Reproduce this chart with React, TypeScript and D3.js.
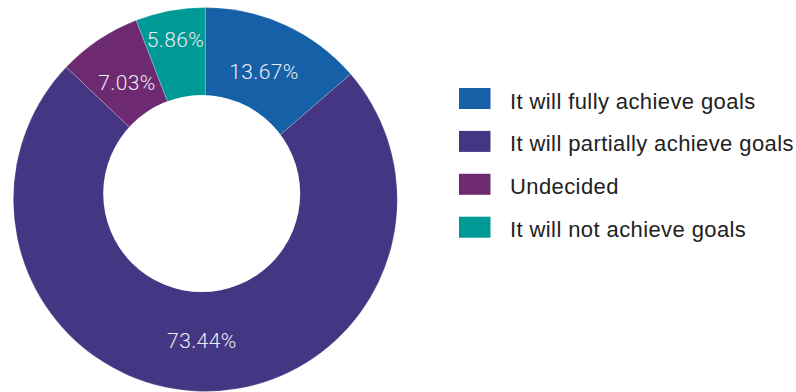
import React from "react";
import * as d3 from "d3";

const categories = [
  "It will fully achieve goals",
  "It will partially achieve goals",
  "Undecided",
  "It will not achieve goals",
];
const values = [13.67, 73.44, 7.03, 5.86];
const labels = ["13.67%", "73.44%", "7.03%", "5.86%"];
const colors = ["#1560A7", "#443682", "#6D2A70", "#009A96"];

const W = 796;
const H = 392;
const cx = 205.3;
const cy = 199.5;
const outerR = 192;
const holeCx = 201.7;
const holeCy = 193.6;
const holeR = 98.5;
const labelFont = 21;

function textWidth(s: string, size: number) {
  let w = 0;
  for (const ch of s) {
    if (ch === ".") w += 0.278;
    else if (ch === "%") w += 0.889;
    else w += 0.556;
  }
  return w * size;
}

export default function App() {
  const pie = d3
    .pie<number>()
    .sort(null)
    .value((d) => d);
  const arcs = pie(values);
  const arc = d3.arc<d3.PieArcDatum<number>>().innerRadius(0).outerRadius(outerR);
  const baseLabelR = 141;

  return (
    <svg
      width={W}
      height={H}
      style={{ position: "absolute", left: 0, top: 0, background: "#fff" }}
    >
      <g transform={`translate(${cx},${cy})`}>
        {arcs.map((a, i) => (
          <path
            key={i}
            d={arc(a) || ""}
            fill={colors[i]}
            stroke="#ffffff"
            strokeOpacity={0.35}
            strokeWidth={0.6}
          />
        ))}
      </g>
      <circle cx={holeCx} cy={holeCy} r={holeR} fill="#ffffff" />
      <g transform={`translate(${cx},${cy})`}>
        {arcs.map((a, i) => {
          const theta = a.endAngle - a.startAngle;
          const tw = textWidth(labels[i], labelFont);
          const fitR = tw / (2 * Math.sin(Math.min(theta, Math.PI) / 2));
          const r = Math.max(baseLabelR, fitR);
          const mid = (a.startAngle + a.endAngle) / 2;
          const x = r * Math.sin(mid);
          const y = -r * Math.cos(mid);
          return (
            <text
              key={i}
              x={x}
              y={y}
              dy="0.35em"
              textAnchor="middle"
              fill="#ECEAF3"
              fontFamily="Roboto, 'Liberation Sans', Arial, sans-serif"
              fontWeight={300}
              fontSize={labelFont}
              letterSpacing={0.4}
            >
              {labels[i]}
            </text>
          );
        })}
      </g>
      <g transform="translate(459,88)">
        {categories.map((c, i) => (
          <g key={i} transform={`translate(0,${i * 42.9})`}>
            <rect width={31.5} height={21} fill={colors[i]} />
            <text
              x={51}
              y={20.5}
              fill="#222222"
              fontFamily="'Liberation Sans', Arial, sans-serif"
              fontSize={22}
              letterSpacing={0.4}
            >
              {c}
            </text>
          </g>
        ))}
      </g>
    </svg>
  );
}
